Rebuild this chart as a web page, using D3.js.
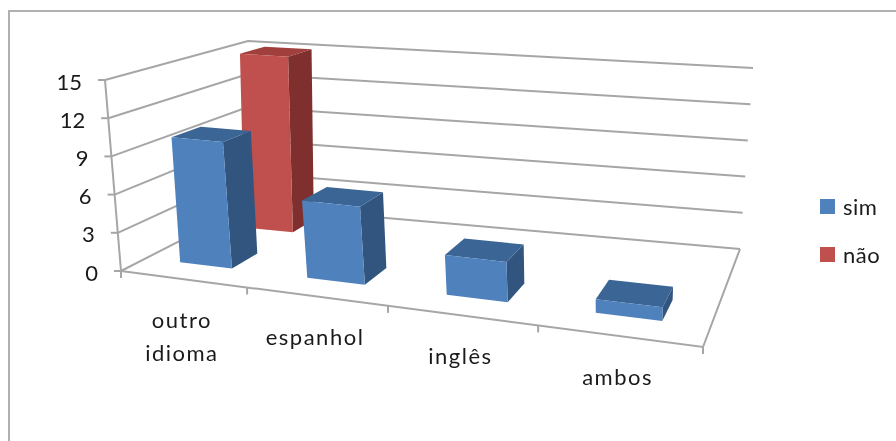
<!DOCTYPE html>
<html>
<head>
<meta charset="utf-8">
<script src="https://cdn.jsdelivr.net/npm/d3@7"></script>
<style>
  html, body { margin: 0; padding: 0; background: #fff; }
  text { font-family: Lato, "Open Sans", sans-serif; fill: #1a1a1a; }
  /* the reference is a soft, upscaled screenshot */
  svg { display: block; filter: blur(0.5px); }
</style>
</head>
<body>
<div id="chart"></div>
<script>
const categories = ['outro idioma', 'espanhol', 'inglês', 'ambos'];
const seriesNames = ['sim', 'não'];
const sim = [10, 6, 3, 1];
const nao = [15, 0, 0, 0];
const yTicks = [0, 3, 6, 9, 12, 15];

const width = 896;
const height = 441;

const colors = {
  sim: { front: '#4f81bd', side: '#31557f', top: '#3a6595' },
  'não': { front: '#c0504d', side: '#7f302e', top: '#a03f3c' }
};
const gridColor = '#a6a6a6';

// corners of the 3D box: front-left, front-right, back-right, back-left
const floorQuad = [[121, 271], [703, 347], [740, 249], [248, 206]];
const topQuad = [[105, 80], [712, 132], [753, 68], [248, 41]];

// maps the unit square onto a quad, keeps the perspective of the picture
function homography(q) {
  const [[x0, y0], [x1, y1], [x2, y2], [x3, y3]] = q;
  const dx1 = x1 - x2, dx2 = x3 - x2, sx = x0 - x1 + x2 - x3;
  const dy1 = y1 - y2, dy2 = y3 - y2, sy = y0 - y1 + y2 - y3;
  const den = dx1 * dy2 - dx2 * dy1;
  const g = (sx * dy2 - dx2 * sy) / den;
  const h = (dx1 * sy - sx * dy1) / den;
  const a = x1 - x0 + g * x1, b = x3 - x0 + h * x3;
  const d = y1 - y0 + g * y1, e = y3 - y0 + h * y3;
  return (u, v) => {
    const w = g * u + h * v + 1;
    return [(a * u + b * v + x0) / w, (d * u + e * v + y0) / w];
  };
}

const floorMap = homography(floorQuad);
const topMap = homography(topQuad);

const xBand = d3.scaleBand().domain(categories).range([0, 1]).paddingInner(0.58).paddingOuter(0.29);
const zBand = d3.scaleBand().domain(seriesNames).range([0, 1]).paddingInner(0.608).paddingOuter(0.284).align(0.586);
const yScale = d3.scaleLinear().domain([0, 15]).range([0, 1]);
// the quad alone squeezes the left categories too much, so nudge the category ticks
const uWarp = d3.scaleLinear().domain([0, 0.25, 0.5, 0.75, 1]).range([0, 0.269, 0.53, 0.771, 1]);

// u = along categories, z = depth, v = value
function project(u, z, v) {
  const a = floorMap(uWarp(u), z), b = topMap(uWarp(u), z), t = yScale(v);
  return [a[0] + (b[0] - a[0]) * t, a[1] + (b[1] - a[1]) * t];
}

const svg = d3.select('#chart').append('svg')
  .attr('width', width)
  .attr('height', height);

// chart frame, runs off the right and bottom of the picture
svg.append('path')
  .attr('d', `M9,${height + 5}V11H${width + 5}`)
  .attr('fill', 'none')
  .attr('stroke', '#b0b0b0')
  .attr('stroke-width', 2);

const line = d3.line();
const grid = svg.append('g').attr('fill', 'none').attr('stroke', gridColor).attr('stroke-width', 2);

// walls
yTicks.forEach(v => {
  grid.append('path').attr('d', line([project(0, 0, v), project(0, 1, v), project(1, 1, v)]));
  const p = project(0, 0, v);
  grid.append('path').attr('d', line([[p[0] - 7, p[1]], p]));
});
grid.append('path').attr('d', line([project(0, 0, 15), project(0, 0, 0)]));

// floor
grid.append('path').attr('d', line([project(0, 0, 0), project(1, 0, 0), project(1, 1, 0)]));
d3.range(categories.length + 1).forEach(i => {
  const p = project(i / categories.length, 0, 0);
  grid.append('path').attr('d', line([p, [p[0], p[1] + 7]]));
});

// bars, back row first
const rows = [
  { name: 'não', values: nao },
  { name: 'sim', values: sim }
];
const barsG = svg.append('g');
rows.forEach(row => {
  const c = colors[row.name];
  const z0 = zBand(row.name), z1 = z0 + zBand.bandwidth();
  categories.forEach((cat, i) => {
    const value = row.values[i];
    if (!value) return;
    const u0 = xBand(cat), u1 = u0 + xBand.bandwidth();
    barsG.append('path').attr('fill', c.side)
      .attr('d', line([project(u1, z0, 0), project(u1, z1, 0), project(u1, z1, value), project(u1, z0, value)]) + 'Z');
    barsG.append('path').attr('fill', c.top)
      .attr('d', line([project(u0, z0, value), project(u1, z0, value), project(u1, z1, value), project(u0, z1, value)]) + 'Z');
    barsG.append('path').attr('fill', c.front)
      .attr('d', line([project(u0, z0, 0), project(u1, z0, 0), project(u1, z0, value), project(u0, z0, value)]) + 'Z');
  });
});

// y labels
svg.append('g').selectAll('text')
  .data(yTicks)
  .join('text')
  .attr('x', d => project(0, 0, d)[0] - 23)
  .attr('y', d => project(0, 0, d)[1] + 1)
  .attr('text-anchor', 'end')
  .attr('dominant-baseline', 'central')
  .style('font-size', '22px')
  .text(d => d);

// category labels, the long one wraps
const catG = svg.append('g');
categories.forEach((cat, i) => {
  const p = project((i + 0.5) / categories.length, 0, 0);
  const t = catG.append('text')
    .attr('text-anchor', 'middle')
    .attr('dominant-baseline', 'central')
    .style('font-size', '22px')
    .style('letter-spacing', '1.5px');
  cat.split(' ').forEach((w, j) => {
    t.append('tspan').attr('x', p[0]).attr('y', p[1] + 40 + j * 33).text(w);
  });
});

// legend
const legendRow = d3.scaleOrdinal().domain(seriesNames).range([207, 255]);
const legend = svg.append('g').selectAll('g')
  .data(seriesNames)
  .join('g')
  .attr('transform', d => `translate(820,${legendRow(d)})`);
legend.append('rect')
  .attr('y', -8).attr('width', 15).attr('height', 15)
  .attr('fill', d => colors[d].front);
legend.append('text')
  .attr('x', 23)
  .attr('y', -1)
  .attr('dominant-baseline', 'central')
  .style('font-size', '22px')
  .style('letter-spacing', '0.5px')
  .text(d => d);
</script>
</body>
</html>
